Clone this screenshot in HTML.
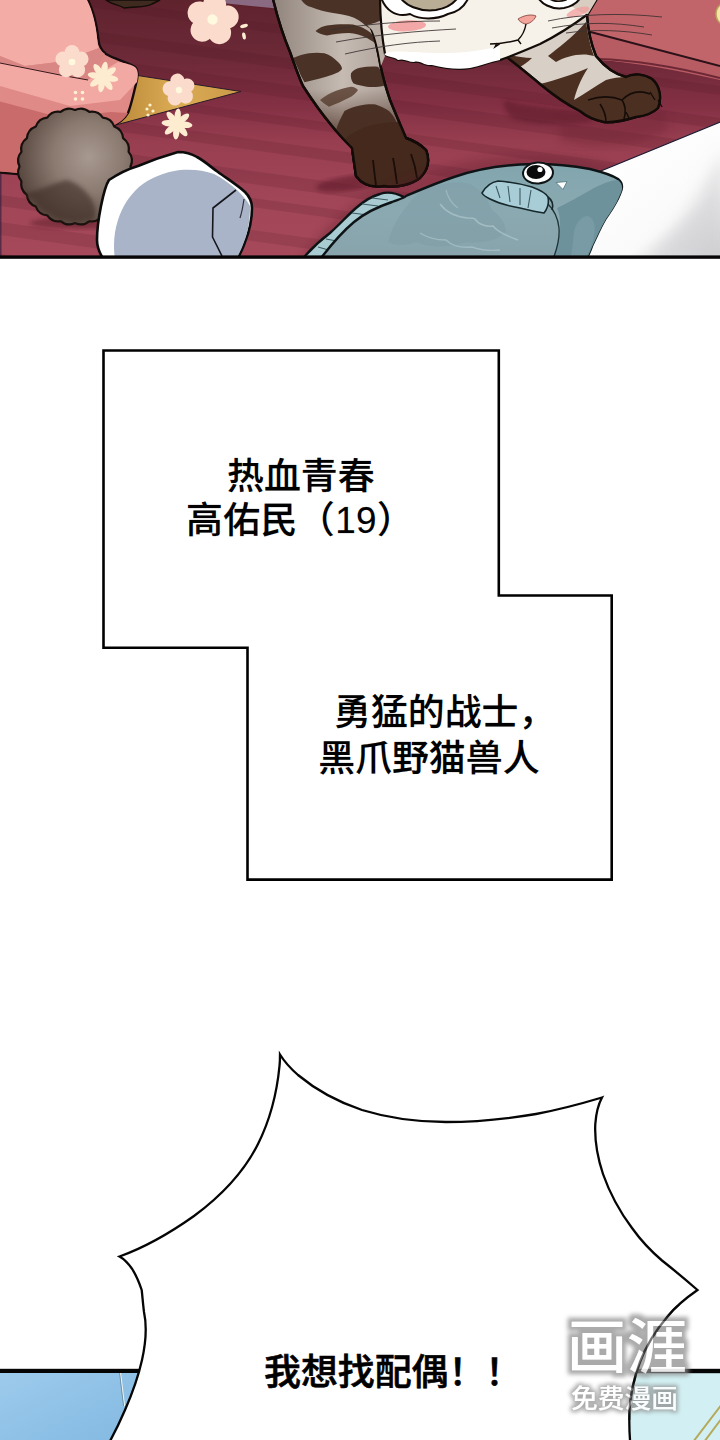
<!DOCTYPE html>
<html lang="zh-CN">
<head>
<meta charset="utf-8">
<title>漫画</title>
<style>
html,body{margin:0;padding:0;background:#fff;}
body{width:720px;height:1440px;position:relative;overflow:hidden;font-family:"Liberation Sans","Noto Sans CJK SC",sans-serif;color:#000;}
#art{position:absolute;left:0;top:0;width:720px;height:1440px;display:block;}
.t{position:absolute;white-space:nowrap;font-size:36.9px;line-height:46px;font-weight:500;letter-spacing:0;}
.t{-webkit-text-stroke:0.3px rgba(0,0,0,0.45);}
.b{font-weight:500;-webkit-text-stroke:0.6px #000;}
</style>
</head>
<body>
<svg id="art" width="720" height="1440" viewBox="0 0 720 1440">
<defs>
<linearGradient id="floor" x1="0" y1="0" x2="0" y2="1">
<stop offset="0" stop-color="#5f232e"/><stop offset="0.22" stop-color="#6c2937"/><stop offset="0.4" stop-color="#822f43"/><stop offset="0.55" stop-color="#973e50"/><stop offset="0.75" stop-color="#a04557"/><stop offset="1" stop-color="#a6495a"/>
</linearGradient>
<radialGradient id="pom" cx="0.62" cy="0.42" r="0.62">
<stop offset="0" stop-color="#a89990"/><stop offset="0.5" stop-color="#8a7a70"/><stop offset="1" stop-color="#5a4940"/>
</radialGradient>
<linearGradient id="gold" x1="0" y1="0" x2="1" y2="0">
<stop offset="0" stop-color="#b98838"/><stop offset="0.5" stop-color="#dcab55"/><stop offset="1" stop-color="#c99a48"/>
</linearGradient>
<linearGradient id="leg" x1="0" y1="0" x2="1" y2="0">
<stop offset="0" stop-color="#8f837b"/><stop offset="0.45" stop-color="#c6bbb3"/><stop offset="1" stop-color="#9a8d85"/>
</linearGradient>
<linearGradient id="sheet" x1="0.3" y1="0.2" x2="1" y2="1">
<stop offset="0" stop-color="#ffffff"/><stop offset="0.6" stop-color="#fafafa"/><stop offset="1" stop-color="#cfcfd2"/>
</linearGradient>
<linearGradient id="fish" x1="0" y1="0" x2="0" y2="1">
<stop offset="0" stop-color="#82a6ae"/><stop offset="0.5" stop-color="#8ba9b1"/><stop offset="1" stop-color="#87a2ab"/>
</linearGradient>
<clipPath id="p1"><rect x="0" y="0" width="720" height="257"/></clipPath>
<filter id="b2"><feGaussianBlur stdDeviation="2"/></filter>
<filter id="b4"><feGaussianBlur stdDeviation="4"/></filter>
<filter id="b8"><feGaussianBlur stdDeviation="8"/></filter>
<g id="fl5"><g fill="#fbdccc"><circle cx="0" cy="-9.8" r="7.6"/><circle cx="9.3" cy="-3" r="7.6"/><circle cx="5.8" cy="7.9" r="7.6"/><circle cx="-5.8" cy="7.9" r="7.6"/><circle cx="-9.3" cy="-3" r="7.6"/><circle r="7"/></g><circle r="3.4" fill="#fffadf"/></g>
<g id="daisy" fill="#fdeccf"><ellipse rx="3.2" ry="7.5" cy="-8"/><ellipse rx="3.2" ry="7.5" cy="-8" transform="rotate(45)"/><ellipse rx="3.2" ry="7.5" cy="-8" transform="rotate(90)"/><ellipse rx="3.2" ry="7.5" cy="-8" transform="rotate(135)"/><ellipse rx="3.2" ry="7.5" cy="-8" transform="rotate(180)"/><ellipse rx="3.2" ry="7.5" cy="-8" transform="rotate(225)"/><ellipse rx="3.2" ry="7.5" cy="-8" transform="rotate(270)"/><ellipse rx="3.2" ry="7.5" cy="-8" transform="rotate(315)"/><circle r="4"/></g>
<linearGradient id="sky" x1="0" y1="0" x2="1" y2="1">
<stop offset="0" stop-color="#9dcbec"/><stop offset="1" stop-color="#7fb6e0"/>
</linearGradient>
<filter id="wmA" x="-15%" y="-25%" width="130%" height="150%">
<feMorphology in="SourceAlpha" operator="dilate" radius="3.6" result="d"/>
<feGaussianBlur in="d" stdDeviation="2" result="bl"/>
<feFlood flood-color="#8c8c8c" flood-opacity="0.82"/><feComposite in2="bl" operator="in" result="sh"/>
<feMerge><feMergeNode in="sh"/><feMergeNode in="SourceGraphic"/></feMerge>
</filter>
<filter id="wmB" x="-15%" y="-40%" width="130%" height="180%">
<feMorphology in="SourceAlpha" operator="dilate" radius="2.1" result="d"/>
<feGaussianBlur in="d" stdDeviation="2" result="bl"/>
<feFlood flood-color="#8c8c8c" flood-opacity="0.82"/><feComposite in2="bl" operator="in" result="sh"/>
<feMerge><feMergeNode in="sh"/><feMergeNode in="SourceGraphic"/></feMerge>
</filter>
<linearGradient id="legdark" x1="0" y1="0" x2="0" y2="1">
<stop offset="0" stop-color="#4a2e22" stop-opacity="0"/><stop offset="0.5" stop-color="#4a2e22" stop-opacity="0"/><stop offset="0.85" stop-color="#4a2e22" stop-opacity="0.7"/><stop offset="1" stop-color="#4a2e22" stop-opacity="0.9"/>
</linearGradient>
<path id="bub" d="M105 1450C112 1438 119 1424 125 1410C132 1394 138 1378 142 1360C146 1342 147 1326 144 1312C143 1304 142.500 1297 141.700 1290C139 1282 136 1275 132.200 1269C128 1263 124 1259 119.500 1256.500C146 1247 170 1233 194 1216C221 1196 244 1172 258 1144C270 1120 277 1092 279.500 1066C280 1062 280 1058 280 1054.500C284 1061 290 1068 298 1075C316 1090 338 1102 362 1110C388 1118 416 1122 446 1122C476 1122 506 1119 536 1114C560 1109.500 582 1103.500 602 1097.500C598 1105 596 1114 595.300 1124C594.500 1140 597 1156 603 1174C610 1194 620 1212 632 1228C642 1242 652 1252 662 1260.500C674 1270 686 1280 697.500 1290C686 1298 676 1306 668 1316C656 1330 646 1346 640 1362C634 1378 630.500 1394 629.500 1410C629 1424 629.500 1438 631 1450Z"/>
<clipPath id="wmclip"><rect x="555" y="1305" width="140" height="115"/></clipPath>
<!--DEFS-->
</defs>
<g clip-path="url(#p1)">
<!-- floor -->
<rect x="0" y="0" width="720" height="257" fill="url(#floor)"/>
<g fill="#4a1420" opacity="0.15">
<path d="M0 -100 L720 0 V9 L0 -91 Z"/><path d="M0 -73 L720 27 V38 L0 -62 Z"/><path d="M0 -41 L720 59 V72 L0 -28 Z"/><path d="M0 -14 L720 86 V95 L0 -5 Z"/><path d="M0 18 L720 118 V129 L0 29 Z"/><path d="M0 45 L720 145 V158 L0 58 Z"/><path d="M0 77 L720 177 V186 L0 86 Z"/><path d="M0 104 L720 204 V215 L0 115 Z"/><path d="M0 136 L720 236 V249 L0 149 Z"/><path d="M0 163 L720 263 V272 L0 172 Z"/><path d="M0 195 L720 295 V306 L0 206 Z"/><path d="M0 222 L720 322 V335 L0 235 Z"/><path d="M0 254 L720 354 V363 L0 263 Z"/>
</g>
<!-- far-left dark strip -->
<rect x="0" y="174" width="1.5" height="90" fill="#3b2040" opacity="0.7"/>
<!-- purple strip top -->
<path d="M222 0H282V9L222 3Z" fill="#8a6a82"/>
<!-- upper right wall -->
<path d="M560 0H720V79C680 70 640 62 598 60L575 28Z" fill="#c2656a"/>
<path d="M583 30L720 66V80C680 71 640 63 600 60Z" fill="#b85c64"/>
<path d="M583 30L720 66" stroke="#2a1218" stroke-width="2" fill="none"/>
<path d="M598 59C640 60 680 68 720 78" stroke="#5a1c2a" stroke-width="2" fill="none" opacity="0.8"/>
<circle cx="728" cy="14" r="12" fill="#f5e6a8" stroke="#b9a25a" stroke-width="1.5"/>
<!-- gold triangle -->
<path d="M128 74L241 91.5L112 126Z" fill="url(#gold)" stroke="#2a1a2a" stroke-width="1"/>
<g fill="#fff3cf"><circle cx="150" cy="105" r="1.6"/><circle cx="147" cy="109" r="1.6"/><circle cx="153" cy="111" r="1.6"/><circle cx="148" cy="115" r="1.6"/></g>
<!-- pink fabric -->
<path d="M-6 -6H85L88 0C94 12 97 26 98.5 40C99 46 101 50 106 54C116 60 128 62 135 67C139 71 138 77 136 84C133 96 131 106 128 113C124 120 118 124 110 127L60 150L30 175L-6 172Z" fill="#df8a87" stroke="#160c0e" stroke-width="2.4" stroke-linejoin="round"/>
<path d="M-6 100L62 118L110 112L128 113C124 120 118 124 110 127L60 150L30 174L-6 171Z" fill="#c96a6b"/>
<path d="M0 63L60 75L88 80L118 62C126 63 132 65 135 67C139 71 138 77 137 82L120 100L70 106L0 86Z" fill="#f3a9a3"/>
<path d="M0 0H87C93 12 96 26 97.3 40C97.8 45 98 47 99 48L83 54L58 62L25 66L0 56Z" fill="#f4aca6"/>
<path d="M0 56L25 66L58 62L83 54L99 48C100 50 102 52 105 54L88 80L60 75L8 64L0 63Z" fill="#d98784"/>
<path d="M0 63L60 75L88 80" stroke="#3a1a1e" stroke-width="1" fill="none"/>
<g fill="#fff3cf"><circle cx="75.5" cy="92.5" r="1.8"/><circle cx="82.5" cy="92.5" r="1.8"/><circle cx="75.5" cy="99" r="1.8"/><circle cx="82.5" cy="99" r="1.8"/></g>
<!-- flowers -->
<use href="#fl5" transform="translate(72 62) scale(0.98)"/>
<use href="#daisy" transform="translate(103 77) rotate(10)"/>
<use href="#fl5" transform="translate(212.5 19.5) scale(1.52) rotate(8)"/>
<g fill="#fdeccf"><ellipse cx="244" cy="26" rx="4" ry="1.8" transform="rotate(-15 244 26)"/><ellipse cx="244" cy="36" rx="1.8" ry="3.6" transform="rotate(-10 244 36)"/></g>
<use href="#fl5" transform="translate(179 90) scale(0.95) rotate(-10)"/>
<use href="#daisy" transform="translate(177 124) scale(1) rotate(5)"/>
<!-- top-left dark paw bit -->
<path d="M106 0C112 5 118 4 124 8C134 6 146 8 152 4L160 0Z" fill="#3f2a20" stroke="#150c08" stroke-width="1.5"/>
<!-- pom-pom -->
<ellipse cx="80" cy="223" rx="50" ry="6" fill="#5a1a28" opacity="0.5" filter="url(#b2)"/>
<path d="M75.0 110.0Q82.8 106.3 89.4 111.9Q97.8 110.4 102.8 117.6Q111.3 118.3 114.2 126.5Q122.3 129.5 123.1 138.2Q130.1 143.3 128.6 151.9Q134.2 158.6 130.5 166.5Q134.2 174.4 128.6 181.1Q130.1 189.7 123.1 194.8Q122.3 203.5 114.2 206.5Q111.3 214.7 102.8 215.4Q97.8 222.6 89.4 221.1Q82.8 226.7 75.0 223.0Q67.2 226.7 60.6 221.1Q52.2 222.6 47.3 215.4Q38.7 214.7 35.8 206.5Q27.7 203.5 26.9 194.8Q19.9 189.7 21.4 181.1Q15.8 174.4 19.5 166.5Q15.8 158.6 21.4 151.9Q19.9 143.3 26.9 138.2Q27.7 129.5 35.8 126.5Q38.7 118.3 47.2 117.6Q52.2 110.4 60.6 111.9Q67.2 106.3 75.0 110.0Z" fill="url(#pom)" stroke="#17100d" stroke-width="2.2" stroke-linejoin="round"/>
<path d="M24 195C38 190 52 184 66 180C76 182 86 190 92 200C96 208 96 214 94 219C90 221 86 222 82 222C76 223 72 223 68 221C61 221 54 218 49 214C42 211 37 206 34 200C30 198 27 197 24 195Z" fill="#3f2e26" opacity="0.62" filter="url(#b2)"/>
<!-- white rock -->
<path d="M97 240C97 228 99 216 101 206C103 196 105 186 109 180C118 174 128 169 138 166C150 161 164 156 178 152C186 152 192 154 197 157C206 162 212 168 218 172C226 178 236 184 245 192C250 197 252 202 252 208C252 220 249 232 245 242C243 248 240 254 237 260H104C100 254 97 248 97 240Z" fill="#ffffff" stroke="#0c0c0c" stroke-width="2.6" stroke-linejoin="round"/>
<path d="M115 260C113 246 114 232 118 220C122 207 129 196 139 187C150 178 164 172 180 170C192 169 204 170 214 174C222 178 230 184 237 190C242 195 247 200 250 206C250 220 248 232 244 242C242 248 239 254 236 259Z" fill="#a9b4c8"/>
<path d="M236 190L213 208L212.500 237L222 256" stroke="#15151c" stroke-width="1.6" fill="none" stroke-linejoin="round"/>
<path d="M244 199C243 206 242 212 240 218" stroke="#30303a" stroke-width="1.2" fill="none"/>
<!-- shadows -->
<ellipse cx="350" cy="183" rx="34" ry="7" fill="#5a1626" opacity="0.55" filter="url(#b2)" transform="rotate(-8 350 183)"/>
<path d="M505 100C515 104 540 108 575 110C590 112 600 118 590 122C560 126 525 124 512 118C505 112 502 104 505 100Z" fill="#5e1a2a" opacity="0.6" filter="url(#b2)"/>
<path d="M560 118C600 120 640 118 665 110L668 130C630 150 590 150 560 140Z" fill="#6a2032" opacity="0.35" filter="url(#b4)"/>
<!-- cat left leg -->
<path d="M272 -5C278 20 284 38 290 52C295 66 299 78 303 86C312 100 322 114 332 126C340 136 346 142 352 148L356 176C362 184 372 188 384 186C398 188 412 184 420 178C428 170 430 160 426 150C420 144 412 140 406 138C400 124 394 110 390 100C386 88 383 78 381 68C378 52 376 40 372 30C367 18 361 8 354 -5Z" fill="url(#leg)" stroke="#120b08" stroke-width="2.4" stroke-linejoin="round"/>
<!-- stripes on left leg -->
<g fill="#4a3226">
<path d="M298 -5C302 2 306 6 311 7C318 10 326 12 333 13C340 14 345 15 349 16C356 18 362 22 366 26L372 30C367 18 361 8 354 -5Z"/>
<path d="M315.500 31C319 28 323 26 327 25.500C336 24 345 24 353 24.500C360 26 366 29 371 33C374 36 376 40 377 44.500C374 42 370 40 367 38C361 35 355 33.500 349 33C341 33 334 34 327 35.500C322 35 318 33 315.500 31Z"/>
<path d="M293 58C298 56 304 54 309 53.300C314 52.500 320 52.500 324.500 53.300C330 55 334 58 338 62C340 64 342 66 342 69C340 71.500 337 73 333 74.500C324 77.500 314 80 304.500 82.200C302 78 300 74 299 71C297 66 295 62 293 58Z"/>
<path d="M351 73.300C353 70.500 356 68.500 360 67.800C366 66.500 372 66 378 66.700C380 69 381.500 72 382.200 75.500C383.500 79 384.500 82 385 85.500C379 87 372 87.500 366.700 86.700C362 86 357 85 353.300 83.300C351 80 350.500 76.500 351 73.300Z"/>
<path d="M344.500 111C349 108.500 354 106.500 360 105.500C365 104.500 371 104 375.500 104.500C380 106 385 108 389 111C392 114 394 117 395.500 120L402 134L350 146L336 130C338 124 341 117 344.500 111Z"/>
</g>
<path d="M320 100C325 96 330 93 335.500 91C340 89 346 87.500 351 86.700C354 87 356.500 88 358 90C356 93 353 96 349 97.800C343 101 336 104 329 106.700C326 105 323 103 320 100Z" fill="#6b5447"/>
<path d="M290 52C295 66 299 78 303 86C312 100 322 114 332 126C340 136 346 142 352 148L406 138C400 124 394 110 390 100C386 88 383 78 381 68C378 52 376 40 372 30Z" fill="url(#legdark)"/>
<path d="M352 148L356 176C362 184 372 188 384 186C398 188 412 184 420 178C428 170 430 160 426 150C420 144 412 140 406 138" fill="#432a1f" stroke="#120b08" stroke-width="2.4" stroke-linejoin="round"/>
<path d="M344 140C356 128 376 122 398 122C402 130 404 136 406 140C412 142 420 146 426 152C430 160 428 170 420 178C412 184 398 188 384 186C372 188 362 184 356 176L352 148Z" fill="#45291d"/>
<path d="M373 160C374 170 375 178 376 185M393 158C395 168 396 176 397 184M411 154C414 162 416 170 417 178" stroke="#1a0e09" stroke-width="1.8" fill="none"/>
<path d="M272 -5C278 20 284 38 290 52C295 66 299 78 303 86C312 100 322 114 332 126C340 136 346 142 352 148L356 176C362 184 372 188 384 186C398 188 412 184 420 178C428 170 430 160 426 150C420 144 412 140 406 138C400 124 394 110 390 100C386 88 383 78 381 68C378 52 376 40 372 30C367 18 361 8 354 -5" fill="none" stroke="#120b08" stroke-width="2.4" stroke-linejoin="round"/>
<!-- cat right leg -->
<path d="M500 52C520 44 550 34 587 15C588 30 591 44 596 56C604 66 614 74 626 77C634 73 644 74 652 79C660 86 662 98 658 108C652 114 644 116 636 117C626 120 614 123 604 122C594 120 586 116 580 111C566 104 552 94 540 84C528 74 514 62 500 52Z" fill="#d8cfc6" stroke="#120b08" stroke-width="2.4" stroke-linejoin="round"/>
<g fill="#4b3022">
<path d="M548 56C558 48 572 38 586 22C588 34 590 46 594 56C582 52 566 56 556 62Z"/>
<path d="M540 84C556 80 574 74 588 68C580 80 576 92 574 100C584 94 596 86 606 80C612 78 620 77 626 77C634 73 644 74 652 79C660 86 662 98 658 108C652 114 644 116 636 117C626 120 614 123 604 122C594 120 586 116 580 111C566 104 552 94 540 84Z"/>
<path d="M504 54C514 56 524 58 532 58C528 62 522 66 518 68C512 62 508 58 504 54Z"/>
</g>
<path d="M588 100C600 96 612 96 622 100C626 106 626 112 624 119M622 100C630 92 640 90 650 94M600 104C604 110 606 116 606 122" stroke="#150c08" stroke-width="1.6" fill="none"/>
<path d="M650 92L655 100M658 100L662 107M626 112L629 118" stroke="#150c08" stroke-width="1.4" fill="none"/>
<path d="M500 52C520 44 550 34 587 15C588 30 591 44 596 56C604 66 614 74 626 77C634 73 644 74 652 79C660 86 662 98 658 108C652 114 644 116 636 117C626 120 614 123 604 122C594 120 586 116 580 111C566 104 552 94 540 84C528 74 514 62 500 52Z" fill="none" stroke="#120b08" stroke-width="2.4" stroke-linejoin="round"/>
<!-- cat body between leg and face (left shoulder) -->
<path d="M348 -5H392L384 19C378 22 372 24 367 25L358 10Z" fill="#4a3226"/>
<path d="M367 25C372 24 378 22 384 19L382 40L385 56L381 66C379 52 376 38 372 30Z" fill="#b9ada4"/>
<!-- cat face / chin -->
<path d="M380 -6C380 12 381 32 385 54C388 58 394 56 398 60C404 58 408 62 414 62C420 60 424 66 432 65C444 68 458 70 470 68C480 66 490 62 500 60C512 56 526 50 540 44C556 36 572 26 588 14L600 -6Z" fill="#f6f1e9" stroke="#120b08" stroke-width="2.2" stroke-linejoin="round"/>
<path d="M384 54C392 50 404 52 416 52C440 54 470 54 500 46L500 60C490 62 480 66 470 68C458 70 444 68 432 65C424 66 420 60 414 62C408 62 404 58 398 60C394 56 388 58 384 54Z" fill="#ffffff"/>
<path d="M560 -6C570 6 580 14 588 14L600 -6Z" fill="#d9cdc2"/>
<!-- eyes -->
<path d="M380 -6C384 10 396 18 410 14C420 20 436 20 448 14C458 12 466 6 470 -6Z" fill="#ffffff" stroke="#120b08" stroke-width="2"/>
<path d="M398 -6C404 6 420 12 436 10C448 8 456 2 460 -6Z" fill="#b9ad96" stroke="#120b08" stroke-width="2"/>
<path d="M536 -6C540 4 552 10 564 8C574 6 580 0 582 -6Z" fill="#ffffff" stroke="#120b08" stroke-width="2"/>
<path d="M544 -6C548 0 556 3 566 0L570 -6Z" fill="#d9c9a8" stroke="#120b08" stroke-width="1.6"/>
<!-- blush -->
<ellipse cx="407" cy="26" rx="19" ry="5.5" fill="#f29a9a" opacity="0.85" transform="rotate(-3 404 25)"/>
<ellipse cx="578" cy="12" rx="12" ry="4" fill="#f29a9a" opacity="0.7" transform="rotate(-20 578 12)"/>
<!-- nose / mouth -->
<path d="M518 19C524 15 532 14 536 16C534 21 529 24 525 24C522 23 519 21 518 19Z" fill="#f3a59b" stroke="#7a3a34" stroke-width="0.8"/>
<path d="M526 24C525 30 522 36 518 40M518 40C510 42 500 44 490 44M518 40L521 44M497 43L495 47L501 43" stroke="#120b08" stroke-width="1.4" fill="none"/>
<!-- whiskers -->
<path d="M330 30C360 25 400 21 440 21M336 42C380 34 420 31 456 29M345 54C380 46 410 42 440 41M548 21C580 14 620 12.500 662 17M552 28C584 22 612 22 644 27M566 33C594 29 622 30 652 35" stroke="#3a3030" stroke-width="1" fill="none" opacity="0.85"/>
<!-- fish shadow on floor -->
<path d="M300 262C320 228 350 204 386 188C420 172 470 158 520 156C560 154 600 160 625 172L600 200L420 230Z" fill="#5a1828" opacity="0.28" filter="url(#b4)"/>
<!-- white sheet -->
<path d="M596 173L725 120V262H560Z" fill="url(#sheet)" stroke="#1a1830" stroke-width="1.2"/>
<path d="M640 262C670 240 700 200 725 150V262Z" fill="#c8c8cc" opacity="0.55" filter="url(#b8)"/>
<!-- fish fin -->
<path d="M300 262C308 252 318 242 330 233C340 224 348 215 356 208C364 201 372 196 380 194C388 191 396 193 404 197L396 210L340 262Z" fill="#a9ccd2" stroke="#0e1416" stroke-width="2.4" stroke-linejoin="round"/>
<path d="M318 247L332 251M326 239L342 242M352 213L368 215M362 204L378 206M372 198L388 200" stroke="#3d5c62" stroke-width="1.2" fill="none"/>
<!-- fish body -->
<path d="M318 262C330 246 342 232 354 222C366 212 380 206 392 202C400 199 404 198 406 196C420 190 436 183 454 177C474 170 496 166 520 164.500C544 163 568 165 590 169C602 172 612 175 618 179C623 183 623 188 620 194C616 204 610 212 606 218C600 228 596 238 592 246C590 252 587 258 584 264Z" fill="url(#fish)" stroke="#0e1416" stroke-width="2.4" stroke-linejoin="round"/>
<!-- fish lower shade -->
<path d="M557 208C566 204 580 196 594 188C604 183 612 180 618 180C623 184 623 189 620 195C616 205 610 213 606 219C600 229 596 239 592 247C590 253 587 258 584 264H550C556 250 561 236 560 224C560 218 559 212 557 208Z" fill="#6d929c"/>
<path d="M574 232C576 222 582 216 588 216C594 218 596 226 594 236C592 246 588 254 584 262H570C572 252 573 242 574 232Z" fill="#7a9ea8" opacity="0.8"/>
<path d="M548 204C554 210 558 218 559 228C560 240 556 252 552 262" stroke="#1d3338" stroke-width="1.3" fill="none"/>
<!-- scales region -->
<path d="M420 192C436 184 456 180 470 184C482 190 488 200 492 210C500 216 506 224 506 232C498 240 482 244 466 242C450 248 430 248 416 242C406 246 396 246 388 242C392 226 404 206 420 192Z" fill="#7f9da6" opacity="0.55"/>
<path d="M440 204C446 212 456 217 468 218C472 218 474 218 475 219C478 224 486 227 493 226C496 230 504 235 518 240" stroke="#a6bfc5" stroke-width="1.5" fill="none" opacity="0.9"/>
<path d="M420 233C428 238 438 240 446 240C452 246 462 248 472 247C480 250 490 251 500 250" stroke="#a6bfc5" stroke-width="1.4" fill="none" opacity="0.8"/>
<path d="M446 190C448 198 452 204 458 208" stroke="#a6bfc5" stroke-width="1.3" fill="none" opacity="0.7"/>
<!-- mouth patch -->
<path d="M482 193C486 186 492 182 498 181C510 182 522 184 532 187C540 190 546 193 548 197C549 202 548 208 544 213C536 212 528 210 520 208C508 206 498 203 490 199C486 197 483 195 482 193Z" fill="#a9cdd6" stroke="#16282c" stroke-width="1.6" stroke-linejoin="round"/>
<path d="M496 186L500 198M508 186L510 202M520 188L520 205M531 190L528 208" stroke="#3d5c62" stroke-width="1.1" fill="none"/>
<path d="M548 197C552 200 554 204 552 210" stroke="#16282c" stroke-width="1.6" fill="none"/>
<!-- eye -->
<ellipse cx="538" cy="173" rx="15" ry="10.5" fill="#ffffff" stroke="#0e1416" stroke-width="2" transform="rotate(-4 538 173)"/>
<ellipse cx="536" cy="172" rx="9.5" ry="7" fill="#0b0b0b"/>
<circle cx="540" cy="169.500" r="2.6" fill="#ffffff"/>
<!-- tear -->
<path d="M556 182.500L567 181.500L563 189.500Z" fill="#ffffff" stroke="#51747b" stroke-width="0.8" stroke-linejoin="round"/>




</g>
<rect x="0" y="255.400" width="720" height="3.400" fill="#080506"/>

<path d="M103.5 350.5H498.8V595.5H611.7V879.6H247.5V647.7H103.5Z" fill="#fff" stroke="#000" stroke-width="2.6" stroke-linejoin="miter"/>
<!--BOX-->
<!-- bottom panel -->
<rect x="-2" y="1371" width="160" height="80" fill="url(#sky)"/>
<path d="M120.500 1373L124.500 1406" stroke="#eef4f4" stroke-width="1.2" fill="none"/>
<path d="M119.600 1373L123.600 1406" stroke="#4a5a60" stroke-width="0.5" fill="none"/>
<rect x="600" y="1371" width="125" height="80" fill="#d2f0f3"/>
<path d="M722 1404L693 1442M722 1418L704 1442" stroke="#b5aa5c" stroke-width="2" fill="none"/>
<rect x="-2" y="1368.800" width="160" height="4.200" fill="#050505"/>
<rect x="600" y="1368.800" width="125" height="4.400" fill="#050505"/>

<use href="#bub" fill="#ffffff" stroke="#050505" stroke-width="2.300" stroke-linejoin="miter" stroke-miterlimit="10"/>

<g font-family="&quot;Liberation Sans&quot;,&quot;Noto Sans CJK SC&quot;,sans-serif" fill="#ffffff" opacity="0.9">
<text x="567" y="1368" font-size="59" font-weight="500" filter="url(#wmA)" textLength="120" lengthAdjust="spacingAndGlyphs">画涯</text>
<text x="571" y="1407.500" font-size="26.500" font-weight="500" filter="url(#wmB)" textLength="107" lengthAdjust="spacingAndGlyphs">免费漫画</text>
</g>

<use href="#bub" fill="none" stroke="#050505" stroke-width="2.300" opacity="0.5" clip-path="url(#wmclip)"/>
</svg>
<div class="t" id="t1" style="left:227px;top:454.4px;">热血青春</div>
<div class="t" id="t2" style="left:186px;top:498px;letter-spacing:0.4px;">高佑民（19）</div>
<div class="t" id="t3" style="left:334px;top:690.3px;">勇猛的战士，</div>
<div class="t" id="t4" style="left:318.2px;top:736.3px;">黑爪野猫兽人</div>
<div class="t b" id="t5" style="left:264px;top:1350.3px;">我想找配偶！！</div>
</body>
</html>
